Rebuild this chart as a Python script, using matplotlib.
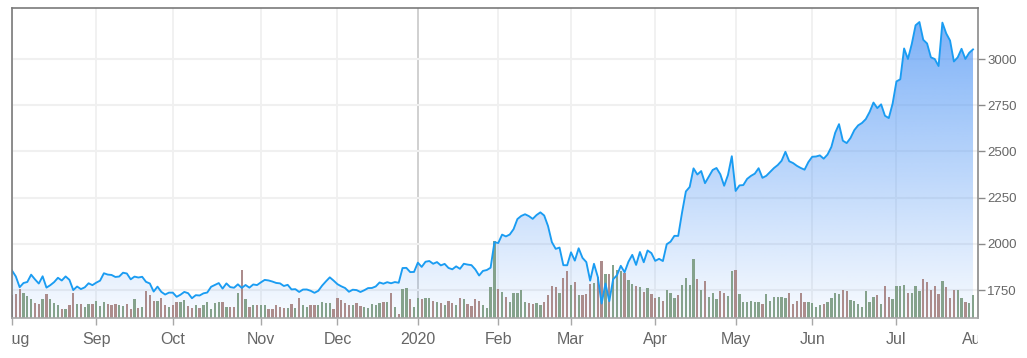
import numpy as np
import matplotlib
matplotlib.use("Agg")
import matplotlib.pyplot as plt
from matplotlib.patches import Polygon
from matplotlib.transforms import Bbox, TransformedBbox, offset_copy, blended_transform_factory

# ---------------- data (daily closes, trading days Aug 2019 - Jul 2020) ----------------
month_labels = ["Aug", "Sep", "Oct", "Nov", "Dec", "2020", "Feb", "Mar", "Apr", "May", "Jun", "Jul", "Aug"]

close_aug19 = [1855.3, 1823.2, 1765.1, 1787.8, 1793.4, 1832.9, 1807.6, 1784.9, 1824.3, 1762.9, 1776.1,
               1792.6, 1816.1, 1801.4, 1823.5, 1805.0, 1749.6, 1768.9, 1755.0, 1764.3, 1786.4, 1776.3]
close_sep19 = [1789.8, 1800.6, 1840.7, 1833.5, 1831.4, 1820.6, 1823.0, 1843.6, 1839.3, 1807.8,
               1822.6, 1817.5, 1821.5, 1794.2, 1785.3, 1741.6, 1768.3, 1739.8, 1725.5, 1735.9]
close_oct19 = [1735.7, 1713.2, 1724.4, 1739.7, 1732.7, 1705.5, 1722.0, 1720.3, 1731.9, 1736.4, 1767.4,
               1777.4, 1787.5, 1757.5, 1785.7, 1765.7, 1762.2, 1780.8, 1761.3, 1777.1, 1762.7, 1780.0, 1776.7]
close_nov19 = [1791.4, 1804.7, 1801.7, 1795.8, 1788.2, 1785.9, 1771.7, 1778.0, 1753.1, 1754.6,
               1739.5, 1752.5, 1752.8, 1745.7, 1734.7, 1745.7, 1773.8, 1796.9, 1818.5, 1800.8]
close_dec19 = [1781.6, 1770.0, 1760.7, 1740.5, 1751.6, 1749.5, 1739.2, 1748.7, 1760.3, 1760.9, 1769.2,
               1790.7, 1784.0, 1792.3, 1786.5, 1793.0, 1789.2, 1868.8, 1869.8, 1846.9, 1847.8]
close_jan20 = [1898.0, 1875.0, 1902.9, 1906.9, 1892.0, 1901.1, 1883.2, 1891.3, 1869.4, 1862.0, 1877.9,
               1864.7, 1892.0, 1887.5, 1884.6, 1861.6, 1828.3, 1853.3, 1858.0, 1870.7, 2008.7]
close_feb20 = [2004.2, 2049.7, 2039.9, 2050.2, 2079.3, 2133.9, 2150.8, 2160.0, 2149.9, 2134.9,
               2155.7, 2170.2, 2153.1, 2096.0, 2009.3, 1972.7, 1979.6, 1884.3, 1883.8]
close_mar20 = [1954.0, 1909.0, 1975.8, 1924.0, 1901.1, 1800.6, 1891.8, 1820.9, 1676.6, 1785.0, 1689.2,
               1807.8, 1830.0, 1880.9, 1846.1, 1902.8, 1940.1, 1885.8, 1955.5, 1900.1, 1964.0, 1949.7]
close_apr20 = [1907.7, 1918.8, 1906.6, 1997.6, 2011.6, 2043.0, 2042.8, 2168.9, 2283.3, 2307.7, 2408.2,
               2375.0, 2393.6, 2328.1, 2363.5, 2399.5, 2410.2, 2376.0, 2314.1, 2372.7, 2474.0]
close_may20 = [2286.0, 2316.0, 2317.8, 2351.3, 2367.6, 2379.6, 2409.0, 2357.0, 2367.9, 2388.9,
               2409.8, 2426.3, 2449.3, 2497.9, 2446.7, 2436.9, 2421.9, 2410.4, 2401.1, 2442.4]
close_jun20 = [2471.0, 2472.4, 2478.4, 2460.6, 2483.0, 2524.1, 2600.9, 2647.5, 2558.0, 2545.0, 2572.7,
               2615.3, 2641.0, 2654.0, 2675.0, 2713.8, 2764.4, 2734.4, 2754.6, 2692.9, 2680.4, 2758.8]
close_jul20 = [2878.7, 2890.3, 3057.0, 3000.1, 3081.1, 3182.6, 3200.0, 3104.0, 3084.0, 3008.9, 2999.9,
               2962.0, 3196.8, 3138.3, 3099.9, 2986.6, 3008.9, 3055.2, 3000.3, 3033.5, 3051.9]

# volume, millions of shares
vol_aug19 = [4.7, 4.9, 5.8, 5.1, 4.5, 3.8, 3.0, 2.9, 3.8, 4.9, 3.8, 3.0, 2.7, 1.9, 1.8, 2.7, 5.1, 2.9, 2.9, 2.3, 2.9, 2.9]
vol_sep19 = [3.5, 2.5, 3.3, 2.8, 2.7, 2.9, 2.7, 2.5, 2.9, 1.8, 3.8, 2.0, 2.3, 5.5, 4.7, 3.5, 3.5, 4.1, 2.7, 2.2]
vol_oct19 = [2.7, 3.3, 3.3, 3.7, 2.5, 2.0, 2.7, 2.0, 2.7, 3.3, 1.8, 3.0, 3.3, 3.3, 2.2, 2.2, 2.2, 5.1, 9.7, 3.8, 2.3, 2.7, 2.7]
vol_nov19 = [2.7, 2.7, 1.8, 1.8, 2.7, 2.2, 2.0, 2.0, 2.9, 2.0, 4.0, 2.7, 2.2, 2.7, 2.7, 2.7, 3.3, 3.1, 3.0, 1.8]
vol_dec19 = [4.0, 3.7, 3.0, 2.7, 2.7, 3.0, 2.5, 2.3, 2.0, 2.9, 2.7, 3.0, 3.3, 3.3, 5.1, 2.2, 0.8, 5.8, 6.1, 3.8, 2.3]
vol_jan20 = [4.0, 3.8, 4.0, 4.0, 3.5, 3.3, 3.1, 2.7, 3.5, 3.0, 2.7, 4.0, 3.8, 2.9, 2.5, 3.8, 3.5, 2.7, 2.1, 6.2, 15.4]
vol_feb20 = [5.8, 5.3, 4.3, 3.2, 5.1, 5.1, 5.7, 3.2, 3.0, 2.8, 3.0, 2.7, 3.2, 4.7, 6.5, 6.2, 5.1, 8.1, 9.4]
vol_mar20 = [6.6, 7.3, 4.7, 4.7, 4.9, 6.9, 7.1, 8.3, 11.4, 8.8, 8.8, 10.7, 9.6, 9.4, 9.1, 7.6, 6.9, 6.5, 6.3, 5.3, 6.1, 4.9]
vol_apr20 = [4.0, 4.3, 3.5, 5.7, 5.1, 4.0, 4.7, 6.7, 8.0, 6.7, 11.8, 7.8, 5.7, 7.5, 4.3, 5.1, 3.8, 5.5, 5.1, 4.5, 9.5]
vol_may20 = [9.7, 4.9, 3.2, 3.2, 3.5, 3.2, 3.2, 2.9, 4.8, 3.5, 4.3, 4.3, 4.3, 4.0, 5.1, 2.9, 3.5, 5.1, 3.2, 3.3]
vol_jun20 = [3.0, 2.3, 2.7, 2.9, 3.2, 4.0, 5.1, 4.9, 5.7, 5.5, 3.7, 3.5, 2.9, 2.3, 5.5, 3.2, 4.3, 4.7, 2.9, 6.5, 4.3, 3.8]
vol_jul20 = [6.5, 6.5, 6.7, 5.1, 5.1, 6.5, 5.5, 7.8, 7.3, 5.7, 6.5, 4.8, 7.5, 6.2, 4.0, 5.7, 5.7, 4.0, 3.3, 3.0, 4.7]

y_ticks = [1750, 2000, 2250, 2500, 2750, 3000]

closes_by_month = [close_aug19, close_sep19, close_oct19, close_nov19, close_dec19, close_jan20,
                   close_feb20, close_mar20, close_apr20, close_may20, close_jun20, close_jul20]
vols_by_month = [vol_aug19, vol_sep19, vol_oct19, vol_nov19, vol_dec19, vol_jan20,
                 vol_feb20, vol_mar20, vol_apr20, vol_may20, vol_jun20, vol_jul20]

close = np.concatenate([np.array(m, float) for m in closes_by_month])
volume = np.concatenate([np.array(m, float) for m in vols_by_month])
x = np.arange(len(close))
month_start = np.concatenate([[0], np.cumsum([len(m) for m in closes_by_month])])

# ---------------- figure ----------------
plt.rcParams["font.family"] = ["Liberation Sans", "DejaVu Sans"]
W, H = 1027, 358
fig = plt.figure(figsize=(W / 100, H / 100), dpi=100)
fig.patch.set_facecolor("white")

L, R, T, B = 12, 978, 8, 318
rect = [L / W, (H - B) / H, (R - L) / W, (B - T) / H]
ymin, ymax = 1598.5, 3276.0
xmin, xmax = 0, 252.3

ax = fig.add_axes(rect)    # background: grid + gradient fill
axv = fig.add_axes(rect)   # volume bars
axl = fig.add_axes(rect)   # price line + axes decoration

for a in (axv, axl):
    a.patch.set_visible(False)

# background axes
ax.set_xlim(xmin, xmax)
ax.set_ylim(ymin, ymax)
ax.axis("off")
grid_c = "#f0f0f0"
for xi, lab in zip(month_start[:-1], month_labels[:-1]):
    ax.axvline(xi, color="#cdcdcd" if lab == "2020" else grid_c, lw=1.3, zorder=0)
for yv in y_ticks:
    ax.axhline(yv, color=grid_c, lw=1.5, zorder=0)

# gradient area fill
verts = np.vstack([np.column_stack([x, close]), [[x[-1], ymin], [x[0], ymin]]])
poly = Polygon(verts, closed=True, facecolor="none", edgecolor="none", transform=ax.transData)
ax.add_patch(poly)
n = 256
alpha = np.linspace(0.04, 0.77, n)
grad = np.zeros((n, 2, 4))
grad[..., 0] = 80 / 255
grad[..., 1] = 150 / 255
grad[..., 2] = 245 / 255
grad[..., 3] = alpha[:, None]
im = ax.imshow(grad, extent=[xmin, xmax, ymin, ymax], origin="lower", aspect="auto",
               interpolation="bilinear", zorder=1)
im.set_clip_path(poly)
ax.set_xlim(xmin, xmax)
ax.set_ylim(ymin, ymax)

# volume bars
prev = np.concatenate([[close[0] + 1], close[:-1]])
up = close > prev
bar_colors = np.where(up, "#7f9e86", "#a88686")
axv.bar(x, volume, width=0.6, color=list(bar_colors), alpha=0.95, linewidth=0)
axv.set_xlim(xmin, xmax)
axv.set_ylim(0, (B - T) / 5.0)
axv.axis("off")

# price line
axl.plot(x, close, color="#1a9cf2", lw=1.35, solid_joinstyle="round")
axl.set_xlim(xmin, xmax)
axl.set_ylim(ymin, ymax)

# spines
for side, c in (("left", "#7a7a7a"), ("top", "#7a7a7a"), ("right", "#8a8a8a"), ("bottom", "#a8a8a8")):
    axl.spines[side].set_color(c)
    axl.spines[side].set_linewidth(1.2)

# ticks
axl.yaxis.tick_right()
axl.set_yticks(y_ticks)
axl.set_yticklabels([str(v) for v in y_ticks])
axl.tick_params(axis="y", which="both", right=True, left=False, labelleft=False, length=5, width=1,
                color="#8a8a8a", labelcolor="#666666", labelsize=9.5, pad=1.5)
axl.set_xticks(month_start[:-1])
axl.set_xticklabels([""] + month_labels[1:-1])
axl.tick_params(axis="x", length=5, width=1, color="#a8a8a8", labelcolor="#666666",
                labelsize=11.5, pad=5)

# edge month labels, clipped at the plot edges
clip = TransformedBbox(Bbox([[L / W, 0], [R / W, 1]]), fig.transFigure)
trans = offset_copy(blended_transform_factory(axl.transData, axl.transAxes), fig=fig,
                    y=-10, units="points")
for xpos, lab in ((month_start[0] + 1.0, month_labels[0]), (month_start[-1] - 0.3, month_labels[-1])):
    t = axl.text(xpos, 0, lab, transform=trans, ha="center", va="top",
                 fontsize=11.5, color="#666666", clip_on=True)
    t.set_clip_box(clip)

fig.savefig("out.png", dpi=100, facecolor="white")
